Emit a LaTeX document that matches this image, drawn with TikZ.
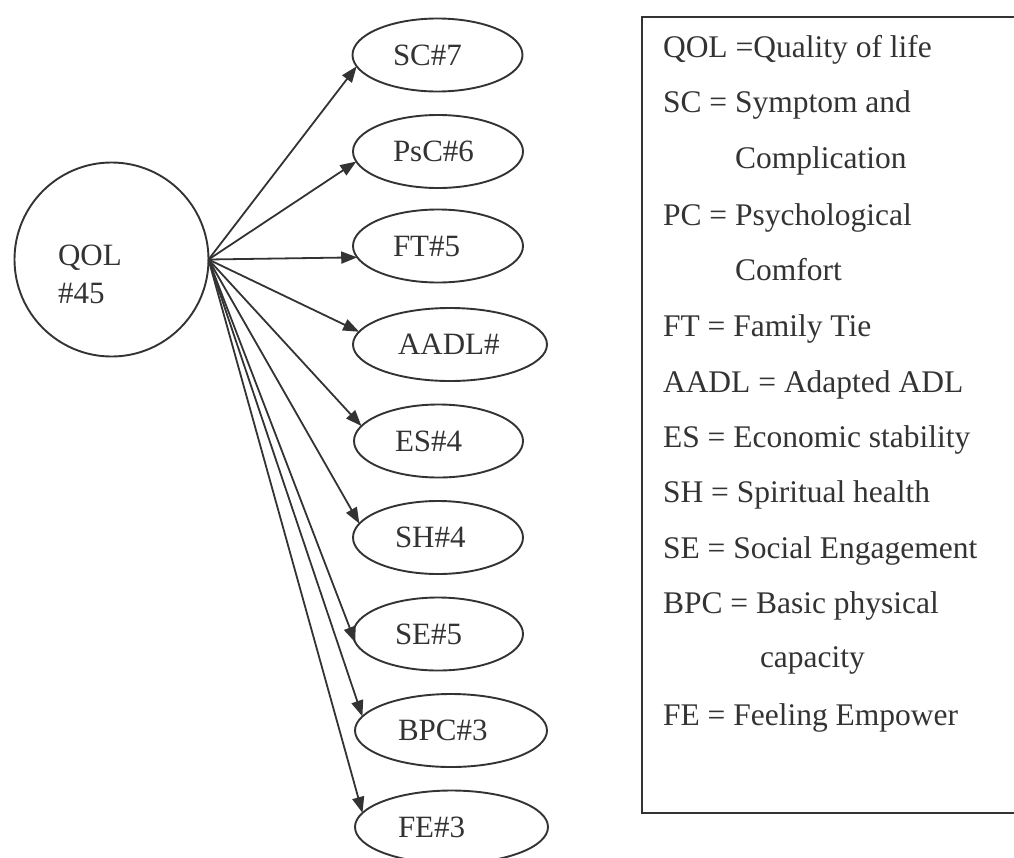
\documentclass[tikz,border=0pt]{standalone}
\usepackage{fontspec}
\setmainfont{Liberation Serif}
\usetikzlibrary{arrows.meta,shapes.geometric}
\definecolor{ink}{HTML}{333333}
\begin{document}
\begin{tikzpicture}[x=1pt,y=-1pt,
  every node/.style={font=\fontsize{31}{38}\selectfont, text=ink, inner sep=0pt, outer sep=0pt},
  oval/.style={draw=ink, line width=1.9pt, ellipse, minimum height=73pt},
  ring/.style={draw=ink, line width=1.9pt, circle},
  legbox/.style={draw=ink, line width=1.9pt, rectangle},
  legtext/.style={anchor=base west, font=\fontsize{31.5}{38}\selectfont},
  arr/.style={draw=ink, line width=1.8pt, -{Triangle[length=16pt,width=12pt]}}]
\useasboundingbox (0,0) rectangle (1014,857);
\clip (0,0) rectangle (1014,857);

% central circle
\node[ring, minimum size=194pt] (q) at (111.5,259.5) {};
\node[anchor=base west] (qa) at (58,265) {QOL};
\node[anchor=base west] (qb) at (58,303) {\#45};

% ellipses
\node[oval, minimum width=170pt] (sc)   at (437.5,55)   {\makebox[89pt][l]{SC\#7}};
\node[oval, minimum width=170pt] (psc)  at (438,151.5)  {\makebox[90pt][l]{PsC\#6}};
\node[oval, minimum width=170pt] (ft)   at (438,246)    {\makebox[90pt][l]{FT\#5}};
\node[oval, minimum width=194pt] (aadl) at (450,344.5)  {\makebox[104pt][l]{AADL\#}};
\node[oval, minimum width=169pt] (es)   at (438.5,441)  {\makebox[87pt][l]{ES\#4}};
\node[oval, minimum width=170pt] (sh)   at (438,537.5)  {\makebox[86pt][l]{SH\#4}};
\node[oval, minimum width=170pt] (se)   at (438,634)    {\makebox[86pt][l]{SE\#5}};
\node[oval, minimum width=192pt] (bpc)  at (451,730.5)  {\makebox[106pt][l]{BPC\#3}};
\node[oval, minimum width=193pt] (fe)   at (451.5,827)  {\makebox[107pt][l]{FE\#3}};

% connectors
\draw[arr] (q.east) -- (sc.188);
\draw[arr] (q.east) -- (psc.187);
\draw[arr] (q.east) -- (ft.188.6);
\draw[arr] (q.east) -- (aadl.172.7);
\draw[arr] (q.east) -- (es.169);
\draw[arr] (q.east) -- (sh.170);
\draw[arr] (q.east) -- (se.186);
\draw[arr] (q.east) -- (bpc.171);
\draw[arr] (q.east) -- (fe.171);

% legend
\node[legbox, anchor=north west, minimum width=420pt, minimum height=796pt] (legend) at (642,17) {};
\node[legtext] (l1)  at (663,57.5)  {QOL =Quality of life};
\node[legtext] (l2)  at (663,112.5) {SC = Symptom and};
\node[legtext] (l3)  at (735,168.5) {Complication};
\node[legtext] (l4)  at (663,225)   {PC = Psychological};
\node[legtext] (l5)  at (735,280.5) {Comfort};
\node[legtext] (l6)  at (663,336)   {FT = Family Tie};
\node[legtext] (l7)  at (663,392)   {AADL = Adapted ADL};
\node[legtext] (l8)  at (663,447.5) {ES = Economic stability};
\node[legtext] (l9)  at (663,502.5) {SH = Spiritual health};
\node[legtext] (l10) at (663,558.5) {SE = Social Engagement};
\node[legtext] (l11) at (663,613.5) {BPC = Basic physical};
\node[legtext] (l12) at (760,667.5) {capacity};
\node[legtext] (l13) at (663,725.5) {FE = Feeling Empower};
\end{tikzpicture}
\end{document}
